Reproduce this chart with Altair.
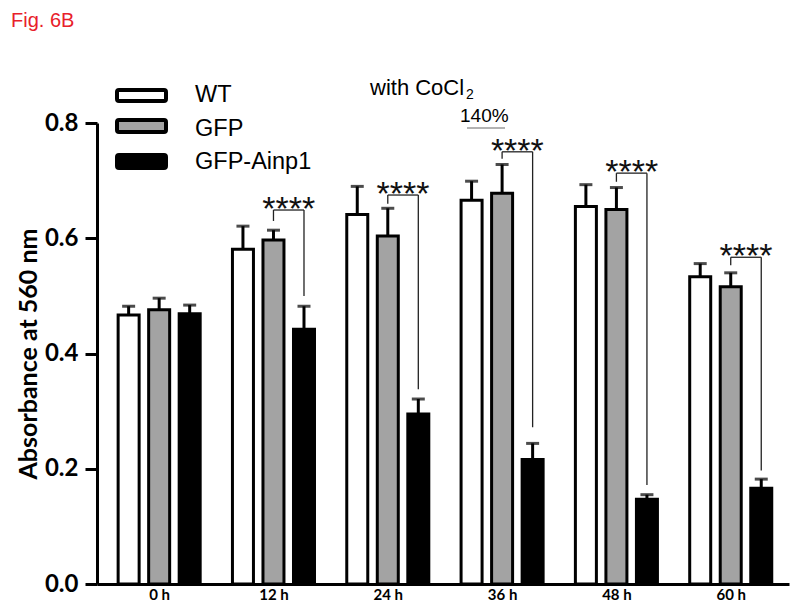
import altair as alt
import pandas as pd

times = ["0 h", "12 h", "24 h", "36 h", "48 h", "60 h"]
groups = ["WT", "GFP", "GFP-Ainp1"]
fills = ["#ffffff", "#a3a3a3", "#000000"]

wt_mean = [0.467, 0.581, 0.641, 0.666, 0.655, 0.533]
wt_err = [0.015, 0.040, 0.049, 0.033, 0.038, 0.023]
gfp_mean = [0.476, 0.597, 0.604, 0.678, 0.650, 0.516]
gfp_err = [0.020, 0.017, 0.048, 0.050, 0.038, 0.024]
ainp_mean = [0.469, 0.442, 0.295, 0.216, 0.147, 0.166]
ainp_err = [0.015, 0.040, 0.026, 0.028, 0.008, 0.016]

# significance brackets (GFP vs GFP-Ainp1), for 12 h .. 60 h
sig_times = ["12 h", "24 h", "36 h", "48 h", "60 h"]
sig_level = [0.649, 0.675, 0.750, 0.713, 0.567]
sig_left_end = [0.630, 0.660, 0.738, 0.698, 0.553]
sig_right_end = [0.500, 0.338, 0.272, 0.172, 0.197]
sig_text = ["****"] * 5

offsets = {"WT": -0.267, "GFP": 0.0, "GFP-Ainp1": 0.267}

rows = []
for gname, means, errs in [("WT", wt_mean, wt_err), ("GFP", gfp_mean, gfp_err), ("GFP-Ainp1", ainp_mean, ainp_err)]:
    for i, t in enumerate(times):
        rows.append({"time": t, "group": gname, "pos": i + offsets[gname],
                     "mean": means[i], "top": means[i] + errs[i]})
df = pd.DataFrame(rows)

sig_rows = []
for k, t in enumerate(sig_times):
    i = times.index(t)
    sig_rows.append({"x1": i + offsets["GFP"], "x2": i + offsets["GFP-Ainp1"],
                     "xm": i + (offsets["GFP"] + offsets["GFP-Ainp1"]) / 2,
                     "yb": sig_level[k], "yl": sig_left_end[k], "yr": sig_right_end[k],
                     "txt": sig_text[k]})
sig = pd.DataFrame(sig_rows)

label_expr = "[" + ",".join("'%s'" % t for t in times) + "][datum.value]"

xq = alt.X("pos:Q", scale=alt.Scale(domain=[-0.5, 5.466], nice=False, zero=False),
           axis=alt.Axis(values=list(range(len(times))), labelExpr=label_expr, title=None,
                         grid=False, ticks=False, domainWidth=3, domainColor="black",
                         labelFont="Lato", labelFontWeight="bold", labelFontSize=15,
                         labelColor="black", labelPadding=3))
yq = alt.Y("mean:Q", scale=alt.Scale(domain=[0, 0.8], nice=False),
           axis=alt.Axis(values=[0, 0.2, 0.4, 0.6, 0.8], format=".1f",
                         title="Absorbance at 560 nm", titleFont="Lato", titleFontWeight="bold",
                         titleFontSize=25, titleColor="black", titlePadding=3,
                         grid=False, tickSize=12, tickWidth=3, tickColor="black",
                         domainWidth=3, domainColor="black",
                         labelFont="Lato", labelFontWeight="bold", labelFontSize=24,
                         labelColor="black", labelPadding=7))

base = alt.Chart(df)
bars = base.mark_bar(stroke="black", strokeWidth=3, size=21).encode(
    x=xq, y=yq,
    fill=alt.Fill("group:N", scale=alt.Scale(domain=groups, range=fills), legend=None))
err = base.mark_rule(strokeWidth=3, color="black").encode(x="pos:Q", y="mean:Q", y2="top:Q")
caps = base.mark_tick(orient="horizontal", size=13, thickness=3, color="black").encode(
    x="pos:Q", y="top:Q")

sb = alt.Chart(sig)
h_line = sb.mark_rule(strokeWidth=1.3, color="#222").encode(x="x1:Q", x2="x2:Q", y="yb:Q")
l_line = sb.mark_rule(strokeWidth=1.3, color="#222").encode(x="x1:Q", y="yb:Q", y2="yl:Q")
r_line = sb.mark_rule(strokeWidth=1.3, color="#222").encode(x="x2:Q", y="yb:Q", y2="yr:Q")
stars = sb.mark_text(font="Liberation Sans", fontSize=34, dy=10, baseline="alphabetic",
                     align="center", color="#111").encode(x="xm:Q", y="yb:Q", text="txt:N")

def note(txt, x, y, size, color="black", align="left", baseline="alphabetic"):
    return alt.Chart(pd.DataFrame({"t": [txt]})).mark_text(
        font="Liberation Sans", fontSize=size, color=color, align=align, baseline=baseline
    ).encode(x=alt.value(x), y=alt.value(y), text="t:N")

fig_title = note("Fig. 6B", -86, -96, 20, color="#e8202a")
coc = note("with CoCl", 273, -28, 22)
coc2 = note("2", 369, -24, 14)
pct = note("140%", 363, -1, 19)
pct_line = alt.Chart(pd.DataFrame({"a": [0]})).mark_rule(color="#666", strokeWidth=1).encode(
    x=alt.value(370), x2=alt.value(408), y=alt.value(5))

legend_layers = []
sw_y = [(-33, -22), (-3, 9), (32, 45)]
txt_y = [-28, 5.5, 38.5]
for k, g in enumerate(groups):
    legend_layers.append(
        alt.Chart(pd.DataFrame({"g": [g]})).mark_rect(
            fill=fills[k], stroke="black", strokeWidth=4, cornerRadius=2
        ).encode(x=alt.value(20), x2=alt.value(69), y=alt.value(sw_y[k][0]), y2=alt.value(sw_y[k][1])))
    legend_layers.append(note(g, 98, txt_y[k], 23.5, baseline="middle"))

chart = alt.layer(
    bars, err, caps, h_line, l_line, r_line, stars,
    fig_title, coc, coc2, pct, pct_line, *legend_layers
).properties(
    width=692, height=461,
    autosize=alt.AutoSizeParams(type="none"),
    padding={"left": 89, "top": 115, "right": 2, "bottom": 20},
    background="white"
).configure_view(stroke=None)

chart.save("out.html", embed_options={"renderer": "svg", "actions": False})
